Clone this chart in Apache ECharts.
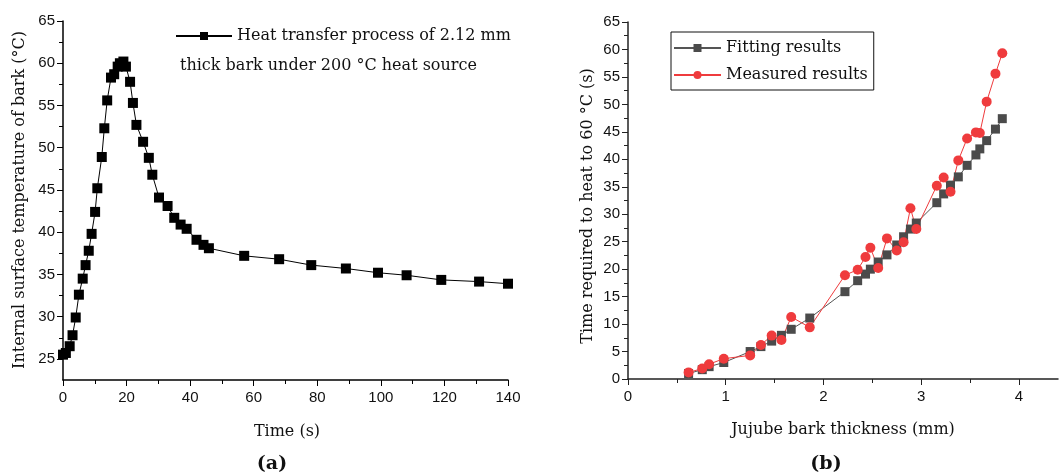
<!DOCTYPE html>
<html>
<head>
<meta charset="utf-8">
<script src="https://cdn.jsdelivr.net/npm/echarts@6/dist/echarts.min.js"></script>
<style>
  html, body { margin: 0; padding: 0; background: #fff; }
  #chart { width: 1059px; height: 475px; }
</style>
</head>
<body>
<div id="chart"></div>
<script>
// ---- Data (a): heat transfer process ----
const timeS = [0, 0.9, 2.1, 3.0, 4.0, 5.0, 6.2, 7.1, 8.1, 9.0, 10.1, 10.8, 12.2, 13.0, 13.9, 15.1, 16.1, 17.2, 17.9, 19.0,
  19.8, 21.1, 22.0, 23.1, 25.2, 27.0, 28.1, 30.2, 32.9, 35.0, 37.0, 38.9, 42.0, 44.2, 45.9, 57.0, 68.0, 78.1, 89.0, 99.1,
  108.1, 119.0, 130.9, 140.0];
const tempC = [25.5, 25.7, 26.5, 27.8, 29.9, 32.6, 34.5, 36.1, 37.8, 39.8, 42.4, 45.2, 48.9, 52.3, 55.6, 58.3, 58.7, 59.6, 60.0, 60.2,
  59.6, 57.8, 55.3, 52.7, 50.7, 48.8, 46.8, 44.1, 43.1, 41.7, 40.9, 40.4, 39.1, 38.5, 38.1, 37.2, 36.8, 36.1, 35.7, 35.2,
  34.9, 34.35, 34.15, 33.9];

// ---- Data (b): time required to heat to 60 °C ----
const thickness = [0.62, 0.76, 0.83, 0.98, 1.25, 1.36, 1.47, 1.57, 1.67, 1.86, 2.22, 2.35, 2.43, 2.48, 2.56, 2.65, 2.75, 2.82,
  2.89, 2.95, 3.16, 3.23, 3.30, 3.38, 3.47, 3.56, 3.60, 3.67, 3.76, 3.83];
const fittingT = [1.0, 1.7, 2.25, 3.0, 5.0, 5.9, 6.9, 7.95, 9.05, 11.1, 15.9, 17.9, 19.1, 20.0, 21.3, 22.6, 24.4, 25.9,
  27.3, 28.4, 32.1, 33.7, 35.3, 36.8, 38.9, 40.8, 41.9, 43.4, 45.5, 47.4];
const measuredT = [1.2, 1.9, 2.7, 3.7, 4.3, 6.2, 7.9, 7.1, 11.3, 9.4, 18.9, 19.9, 22.2, 23.9, 20.2, 25.6, 23.4, 24.9,
  31.1, 27.3, 35.2, 36.7, 34.1, 39.8, 43.8, 44.9, 44.8, 50.5, 55.6, 59.3];

// ---- Tick labels ----
const leftYTicks = [25, 30, 35, 40, 45, 50, 55, 60, 65];
const leftYMinorTicks = [27.5, 32.5, 37.5, 42.5, 47.5, 52.5, 57.5, 62.5];
const rightXTicks = [0, 1, 2, 3, 4];
const rightXMinorTicks = [0.5, 1.5, 2.5, 3.5];

const seriesA = 'Heat transfer process of 2.12 mm thick bark under 200 °C heat source';
const serif = "'DejaVu Serif', 'Liberation Serif', serif";
const sans = "'Liberation Sans', Arial, sans-serif";

const chart = echarts.init(document.getElementById('chart'), null, { renderer: 'canvas' });

const labelStyle = { fontFamily: sans, fontSize: 15, color: '#111' };

const option = {
  animation: false,
  backgroundColor: '#fff',
  grid: [
    { left: 63, top: 21, width: 445, height: 359 },
    { left: 628, top: 22, width: 430, height: 357 }
  ],
  xAxis: [
    {
      gridIndex: 0, type: 'value', min: 0, max: 140, interval: 20,
      axisLine: { lineStyle: { color: '#000', width: 1.5 } },
      axisTick: { length: 6, lineStyle: { color: '#000' } },
      minorTick: { show: true, splitNumber: 2, length: 4, lineStyle: { color: '#000' } },
      splitLine: { show: false },
      axisLabel: Object.assign({ margin: 10 }, labelStyle)
    },
    {
      gridIndex: 1, type: 'value', min: 0, max: 4.4,
      axisLine: { lineStyle: { color: '#222', width: 1.5 } },
      axisTick: { length: 6, lineStyle: { color: '#222' }, customValues: rightXTicks },
      splitLine: { show: false },
      axisLabel: Object.assign({ margin: 10, customValues: rightXTicks }, labelStyle)
    },
    {
      gridIndex: 1, type: 'value', min: 0, max: 4.4, position: 'bottom', offset: 0,
      axisLine: { show: false },
      axisTick: { length: 4, lineStyle: { color: '#222' }, customValues: rightXMinorTicks },
      splitLine: { show: false },
      axisLabel: { show: false }
    }
  ],
  yAxis: [
    {
      gridIndex: 0, type: 'value', min: 22.5, max: 65, interval: 2.5, position: 'left',
      axisLine: { show: true, lineStyle: { color: '#000', width: 1.5 } },
      axisTick: { length: 6, lineStyle: { color: '#000' }, customValues: leftYTicks },
      splitLine: { show: false },
      axisLabel: Object.assign({ margin: 8, customValues: leftYTicks }, labelStyle)
    },
    {
      gridIndex: 0, type: 'value', min: 22.5, max: 65, interval: 2.5, position: 'left', offset: 0,
      axisLine: { show: false },
      axisTick: { length: 4, lineStyle: { color: '#000' }, customValues: leftYMinorTicks },
      splitLine: { show: false },
      axisLabel: { show: false }
    },
    {
      gridIndex: 1, type: 'value', min: 0, max: 65, interval: 5, position: 'left',
      axisLine: { show: true, lineStyle: { color: '#222', width: 1.5 } },
      axisTick: { length: 6, lineStyle: { color: '#222' } },
      minorTick: { show: true, splitNumber: 2, length: 4, lineStyle: { color: '#222' } },
      splitLine: { show: false },
      axisLabel: Object.assign({ margin: 8 }, labelStyle)
    }
  ],
  legend: [
    {
      data: [seriesA],
      left: 175, top: 28,
      itemWidth: 56, itemHeight: 10,
      padding: 0,
      formatter: function () { return 'Heat transfer process of 2.12 mm'; },
      textStyle: { fontFamily: serif, fontSize: 16, color: '#111' }
    },
    {
      data: ['Fitting results', 'Measured results'],
      orient: 'vertical',
      left: 671, top: 32,
      itemWidth: 47, itemHeight: 10, itemGap: 7,
      padding: [6, 6, 5, 2],
      borderColor: '#111', borderWidth: 1,
      textStyle: { fontFamily: serif, fontSize: 16, color: '#111', lineHeight: 20 }
    }
  ],
  graphic: [
    { type: 'text', x: 180, y: 66, style: { text: 'thick bark under 200 °C heat source', font: "16px 'DejaVu Serif', serif", fill: '#111', textAlign: 'left', textVerticalAlign: 'middle' } },
    { type: 'text', x: 20, y: 200, rotation: Math.PI / 2, style: { text: 'Internal surface temperature of bark (°C)', font: "16px 'DejaVu Serif', serif", fill: '#111', textAlign: 'center', textVerticalAlign: 'middle' } },
    { type: 'text', x: 588, y: 206, rotation: Math.PI / 2, style: { text: 'Time required to heat to 60 °C (s)', font: "16px 'DejaVu Serif', serif", fill: '#111', textAlign: 'center', textVerticalAlign: 'middle' } },
    { type: 'text', x: 287, y: 432, style: { text: 'Time (s)', font: "16px 'DejaVu Serif', serif", fill: '#111', textAlign: 'center', textVerticalAlign: 'middle' } },
    { type: 'text', x: 843, y: 430, style: { text: 'Jujube bark thickness (mm)', font: "16px 'DejaVu Serif', serif", fill: '#111', textAlign: 'center', textVerticalAlign: 'middle' } },
    { type: 'text', x: 272, y: 464, style: { text: '(a)', font: "bold 19px 'DejaVu Serif', serif", fill: '#111', textAlign: 'center', textVerticalAlign: 'middle' } },
    { type: 'text', x: 826, y: 464, style: { text: '(b)', font: "bold 19px 'DejaVu Serif', serif", fill: '#111', textAlign: 'center', textVerticalAlign: 'middle' } }
  ],
  series: [
    {
      name: seriesA, type: 'line', xAxisIndex: 0, yAxisIndex: 0,
      data: timeS.map((t, i) => [t, tempC[i]]),
      symbol: 'rect', symbolSize: 10, showAllSymbol: true,
      itemStyle: { color: '#000' },
      lineStyle: { color: '#000', width: 1 }
    },
    {
      name: 'Fitting results', type: 'line', xAxisIndex: 1, yAxisIndex: 2,
      data: thickness.map((x, i) => [x, fittingT[i]]),
      symbol: 'rect', symbolSize: 9, showAllSymbol: true,
      itemStyle: { color: '#4b4b4b' },
      lineStyle: { color: '#555', width: 1 }
    },
    {
      name: 'Measured results', type: 'line', xAxisIndex: 1, yAxisIndex: 2,
      data: thickness.map((x, i) => [x, measuredT[i]]),
      symbol: 'circle', symbolSize: 10, showAllSymbol: true,
      itemStyle: { color: '#ef3b3d' },
      lineStyle: { color: '#ef3b3d', width: 1 }
    }
  ]
};
chart.setOption(option);
</script>
</body>
</html>
